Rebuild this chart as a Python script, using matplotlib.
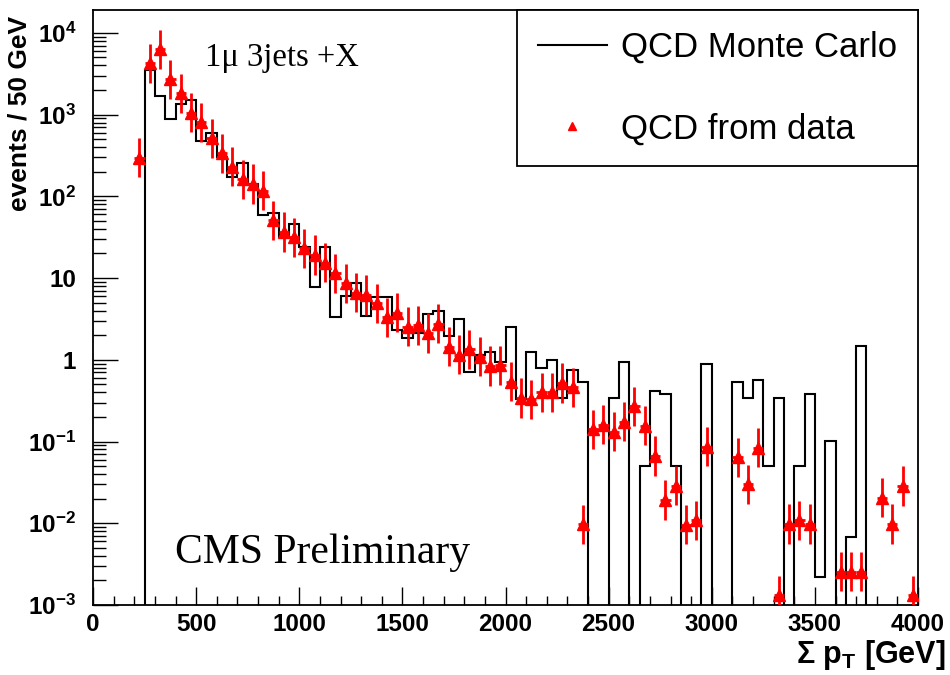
import numpy as np
import matplotlib
matplotlib.use("Agg")
import matplotlib.pyplot as plt
from matplotlib.lines import Line2D
from matplotlib.ticker import FixedLocator, LogLocator, MultipleLocator, NullFormatter

# QCD Monte Carlo, events per 50 GeV bin, first bin starts at 250 GeV (0 = empty)
mc_first_edge = 250
mc_counts = [
    3520, 1690, 886, 1350, 1510, 477, 602, 306, 173, 256,
    142, 59, 63, 32, 45.6, 24.2, 7.8, 23.8, 3.3, 6.1,
    8.6, 3.44, 5.9, 5.9, 2.32, 1.87, 2.10, 3.67, 3.96, 1.98,
    3.13, 0.715, 1.15, 1.26, 0.95, 2.50, 0.33, 1.26, 0.79, 1.0,
    0.34, 0.75, 0.54, 0, 0, 0.34, 0.95, 0, 0.050, 0.41,
    0.38, 0.050, 0, 0, 0.89, 0, 0, 0.54, 0.34, 0.57,
    0.050, 0.34, 0, 0.050, 0.38, 0.0022, 0.102, 0, 0.0068, 1.48,
]

# QCD from data: bin centres [GeV] and events / 50 GeV
data_x = [
    225, 275, 325, 375, 425, 475, 525, 575, 625, 675,
    725, 775, 825, 875, 925, 975, 1025, 1075, 1125, 1175,
    1225, 1275, 1325, 1375, 1425, 1475, 1525, 1575, 1625, 1675,
    1725, 1775, 1825, 1875, 1925, 1975, 2025, 2075, 2125, 2175,
    2225, 2275, 2325, 2375, 2425, 2475, 2525, 2575, 2625, 2675,
    2725, 2775, 2825, 2875, 2925, 2975, 3125, 3175, 3225, 3325,
    3375, 3425, 3475, 3625, 3675, 3725, 3825, 3875, 3925, 3975,
]
data_y = [
    298, 4260, 6310, 2710, 1830, 1060, 807, 514, 337, 231,
    162, 142, 117, 51, 36.6, 31.6, 23.2, 19.2, 15.4, 11.5,
    8.6, 6.6, 6.2, 4.9, 3.31, 3.77, 2.54, 2.64, 2.13, 2.77,
    1.45, 1.16, 1.34, 1.09, 0.84, 0.86, 0.54, 0.34, 0.33, 0.40,
    0.40, 0.52, 0.46, 0.0097, 0.141, 0.161, 0.132, 0.175, 0.27, 0.156,
    0.0665, 0.0192, 0.0288, 0.0096, 0.0109, 0.0863, 0.064, 0.030, 0.084, 0.00132,
    0.0098, 0.0109, 0.0098, 0.00255, 0.00255, 0.00255, 0.0206, 0.0098, 0.0285, 0.00132,
]
err_dex = 0.24  # half length of the data error bars, in decades

y_ticks = [1e-3, 1e-2, 1e-1, 1, 10, 1e2, 1e3, 1e4]
y_tick_labels = [r"$10^{-3}$", r"$10^{-2}$", r"$10^{-1}$", "1", "10",
                 r"$10^{2}$", r"$10^{3}$", r"$10^{4}$"]

plt.rcParams["font.family"] = ["Liberation Sans", "DejaVu Sans"]
plt.rcParams["mathtext.fontset"] = "custom"
plt.rcParams["mathtext.rm"] = "Liberation Sans:bold"
plt.rcParams["mathtext.bf"] = "Liberation Sans:bold"
plt.rcParams["mathtext.it"] = "Liberation Sans:bold"
plt.rcParams["mathtext.sf"] = "Liberation Sans:bold"

fig = plt.figure(figsize=(9.5, 6.75), dpi=100)
ax = fig.add_axes([93 / 950, 1 - 605 / 675, 825 / 950, 595 / 675])
ax.set_yscale("log")

# full 0-4000 GeV histogram, empty bins pushed far below the axis
edges = np.arange(0, 4001, 50)
counts = np.zeros(len(edges) - 1)
i0 = mc_first_edge // 50
counts[i0:i0 + len(mc_counts)] = mc_counts
ax.stairs(np.where(counts > 0, counts, 1e-9), edges, baseline=None,
          color="black", lw=1.5, zorder=2)

dy = np.array(data_y)
yerr = [dy - dy * 10 ** (-err_dex), dy * 10 ** err_dex - dy]
ax.errorbar(data_x, dy, xerr=25, yerr=yerr, fmt="^", color="red",
            ms=8, elinewidth=2.0, capsize=0, zorder=3)

ax.set_xlim(0, 4000)
ax.set_ylim(1e-3, 10 ** 4.28)

ax.xaxis.set_major_locator(MultipleLocator(500))
ax.xaxis.set_minor_locator(MultipleLocator(100))
ax.yaxis.set_major_locator(FixedLocator(y_ticks))
ax.yaxis.set_minor_locator(LogLocator(base=10, subs=np.arange(2, 10)))
ax.yaxis.set_minor_formatter(NullFormatter())
ax.set_yticklabels(y_tick_labels)

ax.tick_params(axis="both", which="both", direction="in", width=1.0,
               top=False, right=False, labelsize=17.5)
ax.tick_params(axis="x", which="major", length=13, pad=6)
ax.tick_params(axis="x", which="minor", length=6.5)
ax.tick_params(axis="y", which="major", length=18, pad=12)
ax.tick_params(axis="y", which="minor", length=9)
for lab in ax.get_xticklabels() + ax.get_yticklabels():
    lab.set_fontweight("bold")
for sp in ax.spines.values():
    sp.set_linewidth(1.3)

ax.set_ylabel("events / 50 GeV", fontsize=19, fontweight="bold", loc="top")
ax.yaxis.set_label_coords(-0.075, 0.99)
ax.set_xlabel(r"$\Sigma$ p$_{\mathregular{T}}$ [GeV]", fontsize=22,
              fontweight="bold", loc="right")
ax.xaxis.set_label_coords(1.033, -0.055)

ax.text(0.136, 0.919, "1\u03bc 3jets +X", transform=ax.transAxes,
        family="Liberation Serif", fontsize=23.5, va="center", ha="left")
ax.text(0.099, 0.087, "CMS Preliminary", transform=ax.transAxes,
        family="Liberation Serif", fontsize=30, va="center", ha="left")

handles = [Line2D([], [], color="black", lw=1.5),
           Line2D([], [], marker="^", color="red", ls="none", ms=6)]
leg = ax.legend(handles, ["QCD Monte Carlo", "QCD from data"],
                loc="upper right", bbox_to_anchor=(1.0, 1.0), fontsize=25,
                frameon=True, fancybox=False, framealpha=1, edgecolor="black",
                borderaxespad=0, borderpad=0.6, labelspacing=1.4,
                handlelength=2.0, handletextpad=0.4)
leg.get_frame().set_linewidth(1.3)

fig.savefig("out.png", dpi=100)
